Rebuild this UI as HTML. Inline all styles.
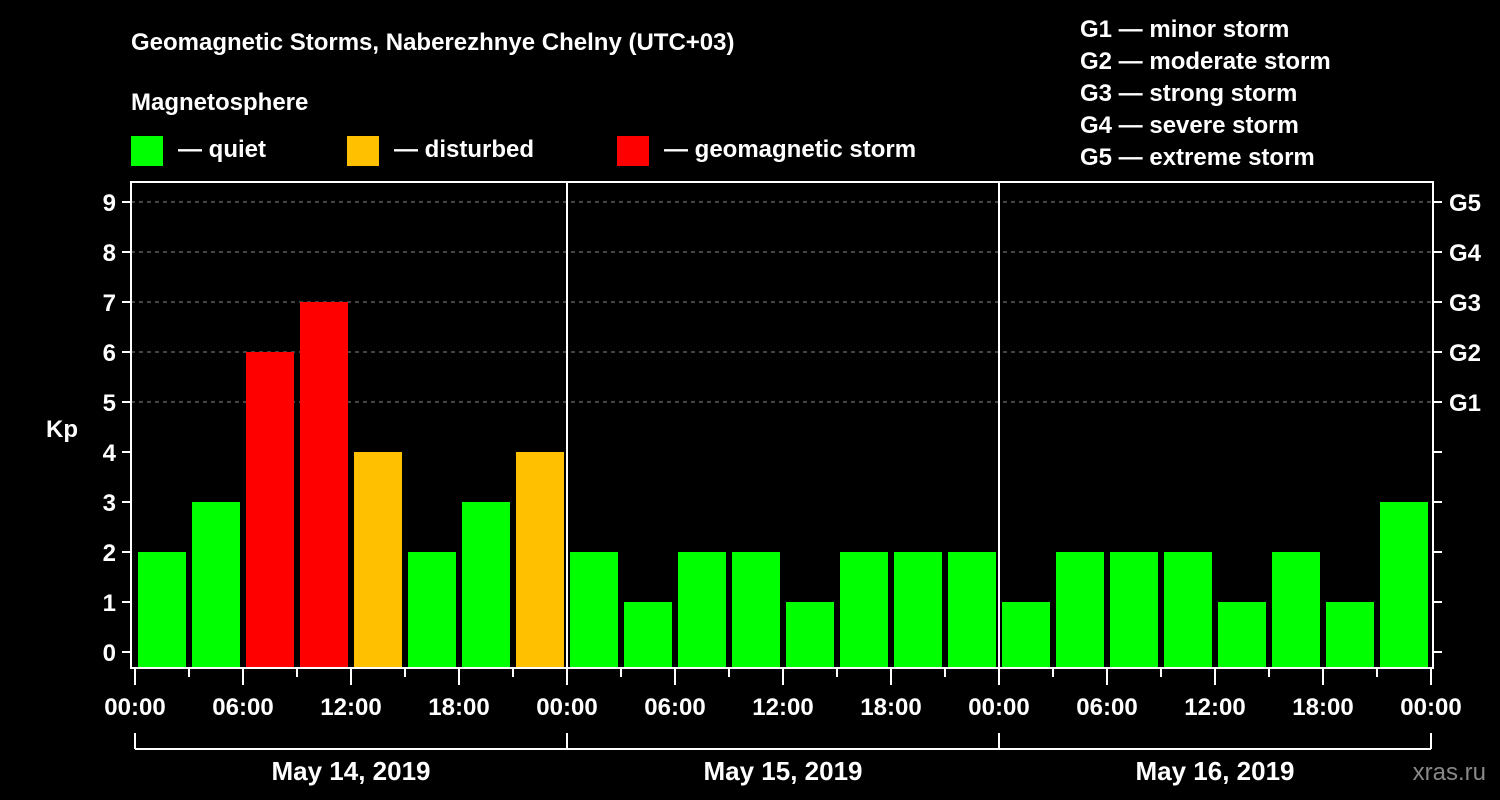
<!DOCTYPE html>
<html><head><meta charset="utf-8"><style>
html,body{margin:0;padding:0;background:#000;}
svg{display:block;font-family:"Liberation Sans",Arial,sans-serif;font-weight:bold;}
</style></head><body>
<svg id="chart" width="1500" height="800" viewBox="0 0 1500 800">
<rect x="0" y="0" width="1500" height="800" fill="#000"/>
<text x="131" y="50" fill="#fff" font-size="24">Geomagnetic Storms, Naberezhnye Chelny (UTC+03)</text>
<text x="131" y="110" fill="#fff" font-size="24">Magnetosphere</text>
<g><rect x="131" y="136" width="32" height="30" fill="#00ff00"/><text x="178" y="157" fill="#fff" font-size="24">— quiet</text></g>
<g><rect x="347" y="136" width="32" height="30" fill="#ffc000"/><text x="394" y="157" fill="#fff" font-size="24">— disturbed</text></g>
<g><rect x="617" y="136" width="32" height="30" fill="#ff0000"/><text x="664" y="157" fill="#fff" font-size="24">— geomagnetic storm</text></g>
<g fill="#fff" font-size="24">
<text x="1080" y="37">G1 — minor storm</text>
<text x="1080" y="69">G2 — moderate storm</text>
<text x="1080" y="101">G3 — strong storm</text>
<text x="1080" y="133">G4 — severe storm</text>
<text x="1080" y="165">G5 — extreme storm</text>
</g>
<text x="62" y="437" fill="#fff" font-size="24" text-anchor="middle">Kp</text>
<text x="1486" y="780" fill="#888" font-size="24" text-anchor="end" font-weight="normal">xras.ru</text>
<g id="grid"></g><g id="bars"></g><g id="axes"></g>
</svg>
<script>
const kpValues = [2,3,6,7,4,2,3,4, 2,1,2,2,1,2,2,2, 1,2,2,2,1,2,1,3];
const hourLabels = ["00:00","06:00","12:00","18:00"];
const dayLabels = ["May 14, 2019","May 15, 2019","May 16, 2019"];
const gLabels = ["G1","G2","G3","G4","G5"];
const NS="http://www.w3.org/2000/svg";
const X0=134, SLOT=54, Y0=652, UNIT=50, BOTTOM=668, TOP=182, LEFT=131, RIGHT=1433;
const xScale=i=>X0+i*SLOT;
const yScale=v=>Y0-v*UNIT;
function mk(tag,attrs,parent){const e=document.createElementNS(NS,tag);for(const k in attrs)e.setAttribute(k,attrs[k]);parent.appendChild(e);return e;}
const grid=document.getElementById('grid'),bars=document.getElementById('bars'),axes=document.getElementById('axes');
for(let k=5;k<=9;k++){
  const l=mk('line',{x1:LEFT,x2:RIGHT,y1:yScale(k),y2:yScale(k),stroke:'#888','stroke-dasharray':'4,4','stroke-width':1},grid);
  
  
}
kpValues.forEach((v,i)=>{
  const c=v>=5?'#ff0000':(v===4?'#ffc000':'#00ff00');
  const r=mk('rect',{x:xScale(i)+4,y:yScale(v),width:48,height:BOTTOM-yScale(v),fill:c},bars);
  
  
});
const frame=mk('rect',{x:LEFT,y:TOP,width:RIGHT-LEFT,height:BOTTOM-TOP,fill:'none',stroke:'#fff','stroke-width':2},axes);


for(let d=1;d<3;d++){
  const l=mk('line',{x1:xScale(d*8)+1,x2:xScale(d*8)+1,y1:TOP,y2:BOTTOM,stroke:'#fff','stroke-width':2},axes);
  
  
}
for(let k=0;k<=9;k++){
  mk('line',{x1:LEFT-9,x2:LEFT,y1:yScale(k),y2:yScale(k),stroke:'#fff','stroke-width':2},axes);
  mk('line',{x1:RIGHT,x2:RIGHT+9,y1:yScale(k),y2:yScale(k),stroke:'#fff','stroke-width':2},axes);
  const t=mk('text',{x:116,y:yScale(k)+9,fill:'#fff','font-size':24,'text-anchor':'end'},axes);
  t.textContent=k;
  
  
}
gLabels.forEach((g,i)=>{
  const t=mk('text',{x:1449,y:yScale(i+5)+9,fill:'#fff','font-size':24},axes);
  t.textContent=g;
  
  
});
for(let i=0;i<=24;i++){
  const major=i%2===0;
  mk('line',{x1:xScale(i)+1,x2:xScale(i)+1,y1:BOTTOM,y2:major?685:677,stroke:'#fff','stroke-width':2},axes);
  if(major){
    const t=mk('text',{x:xScale(i)+1,y:715,fill:'#fff','font-size':24,'text-anchor':'middle'},axes);
    t.textContent=hourLabels[(i/2)%4];
    
    
  }
}
mk('line',{x1:xScale(0)+1,x2:xScale(24)+1,y1:749,y2:749,stroke:'#fff','stroke-width':2},axes);
for(let d=0;d<=3;d++) mk('line',{x1:xScale(d*8)+1,x2:xScale(d*8)+1,y1:733,y2:749,stroke:'#fff','stroke-width':2},axes);
dayLabels.forEach((s,d)=>{
  const t=mk('text',{x:xScale(d*8+4)+1,y:780,fill:'#fff','font-size':26,'text-anchor':'middle'},axes);
  t.textContent=s;
  
  
});
</script>
</body></html>
